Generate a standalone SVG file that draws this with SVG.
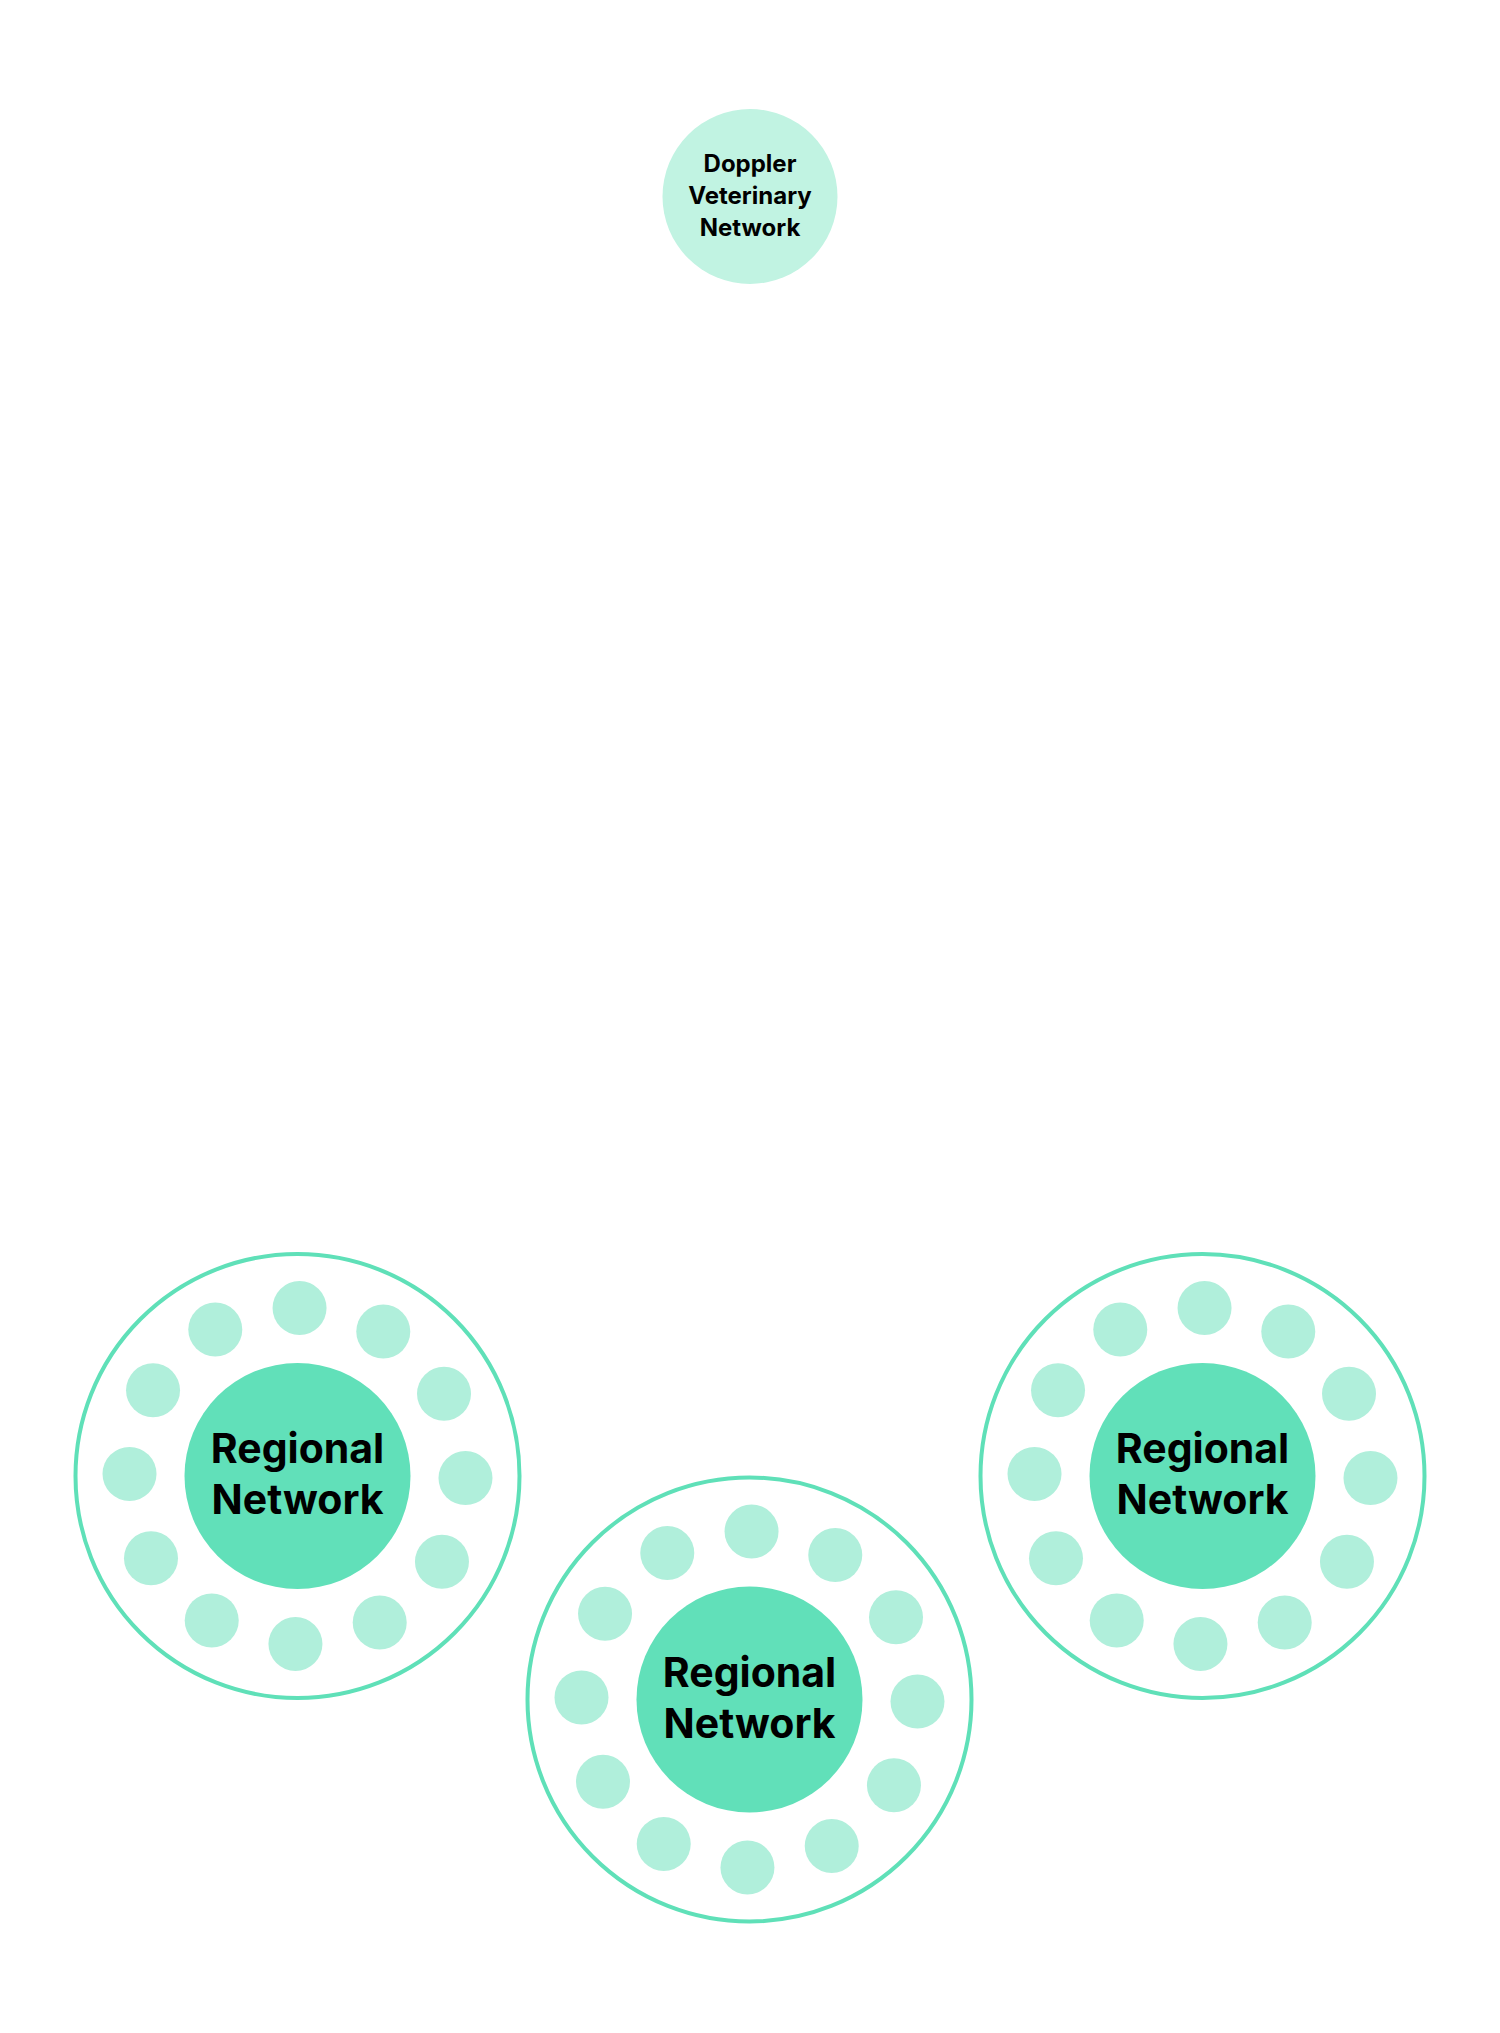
<svg xmlns="http://www.w3.org/2000/svg" xmlns:xlink="http://www.w3.org/1999/xlink" width="1500" height="2033" viewBox="0 0 1500 2033">
<style>
.outer{fill:#ffffff;stroke:#5fe0b8;stroke-width:4}
.core{fill:#61e0b9}
.member{fill:#b0efdb}
.top{fill:#c1f3e2}
.lbl{font-family:Inter,"DejaVu Sans",sans-serif;font-weight:700;fill:#000000;text-anchor:middle}
.big{font-size:41px}
.small{font-size:24px}
</style>
<defs>
<g id="ring">
<circle class="member" cx="2.05" cy="-167.99" r="27"/>
<circle class="member" cx="85.77" cy="-144.46" r="27"/>
<circle class="member" cx="146.51" cy="-82.22" r="27"/>
<circle class="member" cx="167.99" cy="2.05" r="27"/>
<circle class="member" cx="144.46" cy="85.77" r="27"/>
<circle class="member" cx="82.22" cy="146.51" r="27"/>
<circle class="member" cx="-2.05" cy="167.99" r="27"/>
<circle class="member" cx="-85.77" cy="144.46" r="27"/>
<circle class="member" cx="-146.51" cy="82.22" r="27"/>
<circle class="member" cx="-167.99" cy="-2.05" r="27"/>
<circle class="member" cx="-144.46" cy="-85.77" r="27"/>
<circle class="member" cx="-82.22" cy="-146.51" r="27"/>
</g>
</defs>
<rect width="1500" height="2033" fill="#ffffff"/>
<g id="connectors"></g>
<g id="doppler">
<circle class="top" cx="750" cy="196.5" r="87.5"/>
<text class="lbl small" x="750" y="172">Doppler</text>
<text class="lbl small" x="750" y="204">Veterinary</text>
<text class="lbl small" x="750" y="236">Network</text>
</g>
<g id="regional-left" transform="translate(297.5,1476)">
<circle class="outer" cx="0" cy="0" r="222"/>
<use xlink:href="#ring"/>
<circle class="core" cx="0" cy="0" r="113"/>
<text class="lbl big" x="0" y="-13">Regional</text>
<text class="lbl big" x="0" y="38">Network</text>
</g>
<g id="regional-middle" transform="translate(749.5,1699.5)">
<circle class="outer" cx="0" cy="0" r="222"/>
<use xlink:href="#ring"/>
<circle class="core" cx="0" cy="0" r="113"/>
<text class="lbl big" x="0" y="-13">Regional</text>
<text class="lbl big" x="0" y="38">Network</text>
</g>
<g id="regional-right" transform="translate(1202.5,1476)">
<circle class="outer" cx="0" cy="0" r="222"/>
<use xlink:href="#ring"/>
<circle class="core" cx="0" cy="0" r="113"/>
<text class="lbl big" x="0" y="-13">Regional</text>
<text class="lbl big" x="0" y="38">Network</text>
</g>
</svg>
